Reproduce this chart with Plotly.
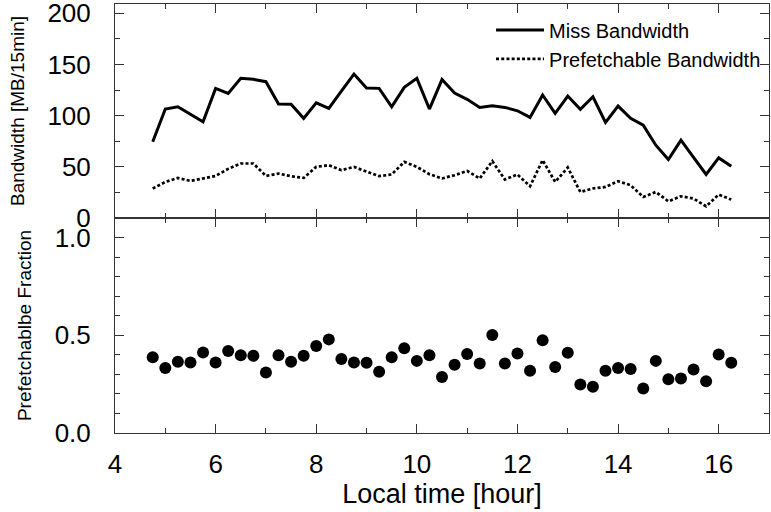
import plotly.graph_objects as go
from plotly.subplots import make_subplots

hours = [4.75 + 0.25 * i for i in range(47)]

miss_bw = [74.4, 106.4, 108.6, 101.2, 93.9, 126.6, 121.7, 136.4, 135.4, 133.1,
           111.3, 111.0, 97.3, 112.5, 107.0, 124.0, 140.6, 126.9, 126.6, 108.6,
           127.6, 136.4, 106.4, 135.2, 122.0, 115.9, 108.0, 109.6, 108.0, 104.7,
           98.2, 120.1, 102.2, 119.1, 106.1, 118.4, 93.3, 109.3, 97.3, 90.7,
           71.1, 57.1, 76.0, 59.1, 42.5, 58.7, 50.6]

pref_bw = [28.8, 35.2, 39.1, 36.2, 38.6, 41.0, 48.0, 53.2, 53.2, 41.1,
           43.4, 40.8, 39.1, 49.9, 51.6, 46.7, 49.9, 45.0, 40.8, 42.5,
           54.8, 49.9, 42.8, 38.6, 41.8, 46.0, 38.6, 55.5, 37.6, 42.5,
           31.0, 56.5, 35.2, 49.3, 25.4, 28.8, 30.3, 35.9, 32.0, 20.5,
           25.4, 16.3, 21.2, 19.0, 11.4, 22.9, 18.0]

fraction = [0.387, 0.333, 0.364, 0.361, 0.412, 0.361, 0.420, 0.398, 0.395, 0.310,
            0.398, 0.364, 0.395, 0.445, 0.479, 0.378, 0.361, 0.359, 0.313, 0.387,
            0.433, 0.369, 0.398, 0.287, 0.349, 0.404, 0.356, 0.501, 0.356, 0.407,
            0.318, 0.475, 0.338, 0.410, 0.248, 0.236, 0.318, 0.333, 0.327, 0.228,
            0.369, 0.275, 0.279, 0.325, 0.265, 0.402, 0.359]

x_ticks = [4, 6, 8, 10, 12, 14, 16]
bw_ticks = [0, 50, 100, 150, 200]
frac_ticks = [0.0, 0.5, 1.0]
frac_tick_text = ["0.0", "0.5", "1.0"]

FONT = "Liberation Sans, Arial, Helvetica, sans-serif"

fig = make_subplots(rows=2, cols=1, shared_xaxes=True, vertical_spacing=0,
                    row_heights=[0.4988, 0.5012])

fig.add_trace(go.Scatter(x=hours, y=miss_bw, mode="lines", name="Miss Bandwidth",
                         line=dict(color="black", width=3)), row=1, col=1)
fig.add_trace(go.Scatter(x=hours, y=pref_bw, mode="lines", name="Prefetchable Bandwidth",
                         line=dict(color="black", width=2.7, dash="3px,2.2px")), row=1, col=1)
fig.add_trace(go.Scatter(x=hours, y=fraction, mode="markers", showlegend=False,
                         marker=dict(color="black", size=12)), row=2, col=1)

axis_common = dict(showline=True, linecolor="#333", linewidth=1, mirror="allticks",
                   ticks="inside", ticklen=9, tickcolor="#333", showgrid=False,
                   zeroline=False, automargin=False, ticklabeloverflow="allow",
                   tickfont=dict(size=26, color="black", family=FONT))

for r in (1, 2):
    fig.update_xaxes(range=[4, 17], tickmode="array", tickvals=x_ticks,
                     minor=dict(dtick=1, tick0=4, ticklen=5, ticks="inside", tickcolor="#333"),
                     row=r, col=1, **axis_common)

fig.update_xaxes(showticklabels=False, row=1, col=1)
fig.update_xaxes(ticklabelstandoff=8,
                 title=dict(text="Local time [hour]", font=dict(size=27, family=FONT, color="black"),
                            standoff=5),
                 row=2, col=1)

fig.update_yaxes(range=[0, 209], tickmode="array", tickvals=bw_ticks,
                 minor=dict(dtick=25, tick0=0, ticklen=5, ticks="inside", tickcolor="#333"),
                 ticklabelstandoff=18,
                 title=dict(text="Bandwidth [MB/15min]", font=dict(size=19, family=FONT, color="black"),
                            standoff=17),
                 row=1, col=1, **axis_common)
fig.update_yaxes(range=[0, 1.1], tickmode="array", tickvals=frac_ticks, ticktext=frac_tick_text,
                 minor=dict(dtick=0.1, tick0=0, ticklen=5, ticks="inside", tickcolor="#333"),
                 ticklabelstandoff=18,
                 title=dict(text="Prefetchablbe Fraction", font=dict(size=19, family=FONT, color="black"),
                            standoff=17),
                 row=2, col=1, **axis_common)

fig.update_layout(
    width=771, height=512,
    margin=dict(l=115, r=2, t=4, b=79),
    plot_bgcolor="white", paper_bgcolor="white",
    font=dict(family=FONT, color="black"),
    legend=dict(x=0.575, xanchor="left", y=0.985, yanchor="top", itemwidth=48,
                font=dict(size=20, family=FONT, color="black"),
                bgcolor="rgba(0,0,0,0)", borderwidth=0, tracegroupgap=0),
)

fig.write_html("out.html", config={"displayModeBar": False},
               post_script="document.body.style.margin='0';document.body.style.padding='0';")
